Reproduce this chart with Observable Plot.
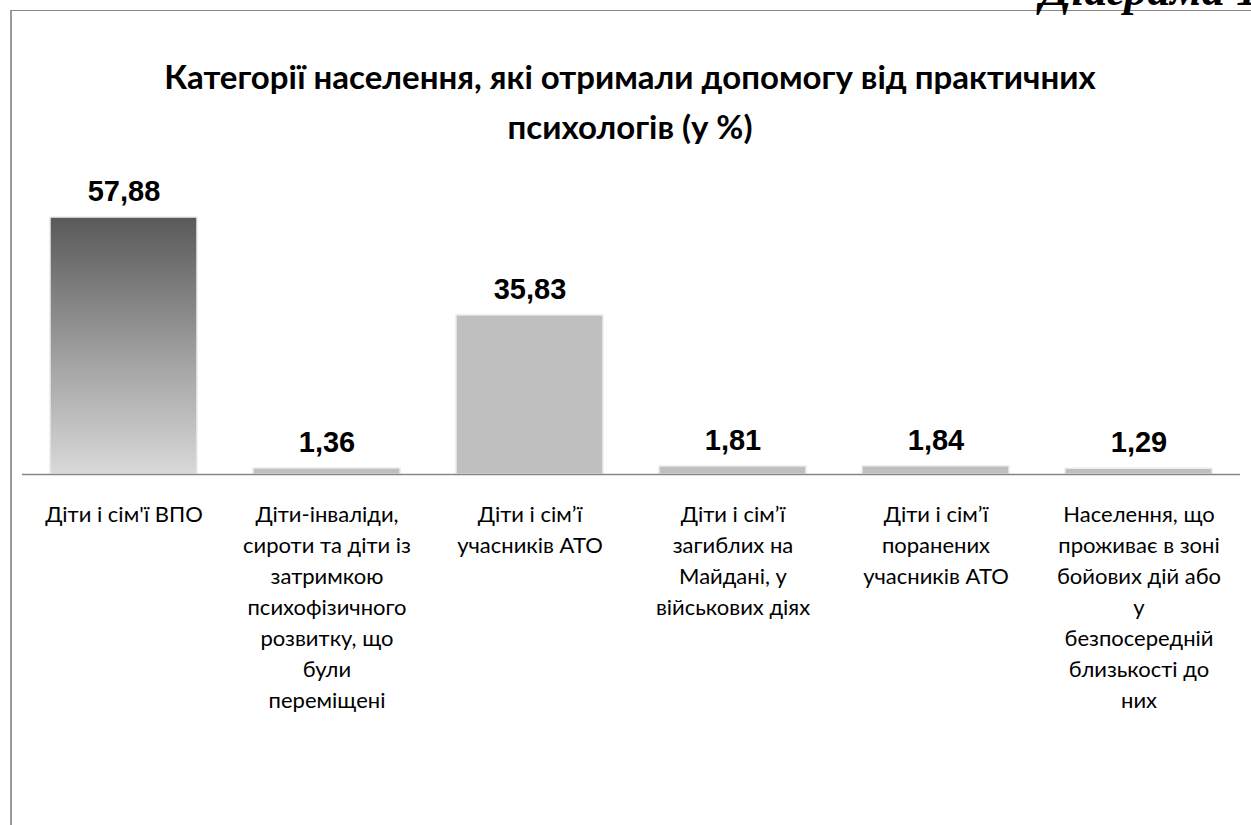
<!DOCTYPE html>
<html>
<head>
<meta charset="utf-8">
<script src="https://cdn.jsdelivr.net/npm/d3@7"></script>
<script src="https://cdn.jsdelivr.net/npm/@observablehq/plot@0.6"></script>
<style>
  html, body { margin: 0; padding: 0; background: #fff; }
  #page { position: relative; width: 1251px; height: 825px; overflow: hidden; background: #fff; }
  #frame { position: absolute; left: 10px; top: 10px; right: -5px; bottom: -5px;
           border-top: 1px solid #888; border-left: 2px solid #9a9a9a; }
  #diag { position: absolute; left: 1040px; top: -33px; white-space: nowrap; line-height: 1;
          font-family: "Liberation Serif", serif; font-style: italic; font-weight: bold; font-size: 46px; color: #000; }
  #title { position: absolute; left: 10px; width: 1240px; top: 51px; text-align: center;
           font-family: Lato, "Open Sans", sans-serif; font-weight: bold; font-size: 33px; line-height: 50px; color: #000; }
  #chart { position: absolute; left: 0; top: 160px; }
</style>
</head>
<body>
<div id="page">
  <div id="frame"></div>
  <div id="diag">Діаграма 1</div>
  <div id="title">Категорії населення, які отримали допомогу від практичних<br>психологів (у %)</div>
  <div id="chart"></div>
</div>
<script>
const titleText = "Категорії населення, які отримали допомогу від практичних психологів (у %)";
const categories = [
  "Діти і сім'ї ВПО",
  "Діти-інваліди,\nсироти та діти із\nзатримкою\nпсихофізичного\nрозвитку, що\nбули\nпереміщені",
  "Діти і сім’ї\nучасників АТО",
  "Діти і сім’ї\nзагиблих на\nМайдані, у\nвійськових діях",
  "Діти і сім’ї\nпоранених\nучасників АТО",
  "Населення, що\nпроживає в зоні\nбойових дій або\nу\nбезпосередній\nблизькості до\nних"
];
const values = [57.88, 1.36, 35.83, 1.81, 1.84, 1.29];

const data = categories.map((c, i) => ({category: c, value: values[i]}));
const fmt = v => v.toFixed(2).replace(".", ",");

const W = 1251, H = 665;
const axisY = 314; // baseline position inside svg
const yMax = 60;
const pxPerUnit = 4.44;
const marginTop = axisY - yMax * pxPerUnit;

const chart = Plot.plot({
  width: W,
  height: H,
  marginLeft: 22,
  marginRight: 11,
  marginTop: marginTop,
  marginBottom: H - axisY,
  style: {background: "transparent", overflow: "visible"},
  x: {domain: categories, paddingInner: 0.276, paddingOuter: 0.138, label: null},
  y: {domain: [0, yMax], axis: null},
  color: {type: "identity"},
  marks: [
    Plot.barY(data, {
      x: "category", y: "value",
      fill: (d, i) => i === 0 ? "url(#barGrad)" : "#bfbfbf",
      stroke: "#ececec", strokeWidth: 1.5,
      style: "filter: drop-shadow(0px 1px 1.5px rgba(0,0,0,0.25))"
    }),
    Plot.ruleY([0], {stroke: "#868686", strokeWidth: 1.5}),
    Plot.text(data, {
      x: "category", y: "value", text: d => fmt(d.value),
      dy: -26, fontSize: 29, fontWeight: "bold",
      fontFamily: "Liberation Sans, Arial, sans-serif", fill: "#000"
    }),
    Plot.axisX({
      tickSize: 0, tickPadding: 25, fontSize: 22, lineHeight: 1.41,
      fontFamily: "Lato, 'Open Sans', sans-serif", fill: "#000", label: null
    })
  ]
});

const svg = d3.select(chart);
svg.style("font-family", "Lato, 'Open Sans', sans-serif");
const defs = svg.insert("defs", ":first-child");
const g = defs.append("linearGradient").attr("id", "barGrad")
  .attr("x1", 0).attr("y1", 0).attr("x2", 0).attr("y2", 1);
g.append("stop").attr("offset", "0%").attr("stop-color", "#595959");
g.append("stop").attr("offset", "50%").attr("stop-color", "#9a9a9a");
g.append("stop").attr("offset", "100%").attr("stop-color", "#d9d9d9");

document.getElementById("chart").appendChild(chart);
</script>
</body>
</html>
